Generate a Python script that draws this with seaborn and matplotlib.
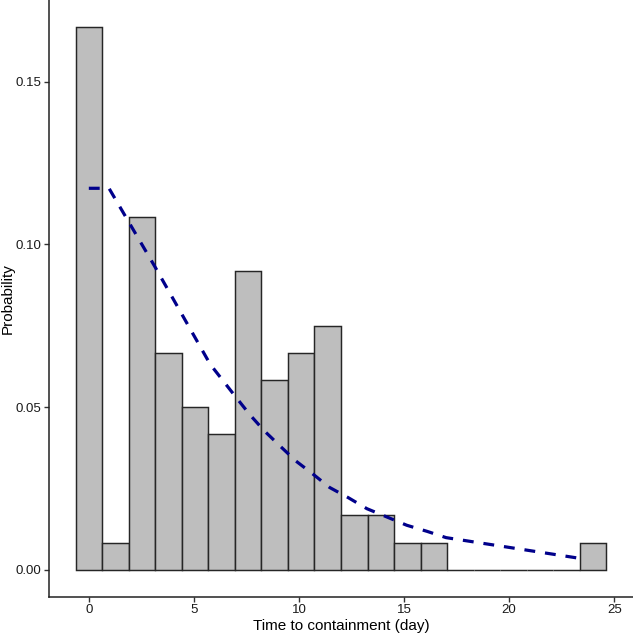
import numpy as np
import pandas as pd
import matplotlib
matplotlib.use("Agg")
import matplotlib.pyplot as plt
import seaborn as sns

# ---- data ----
n_bins = 20
data_min, data_max = 0.0, 24.0
probabilities = [0.1667, 0.0083, 0.1083, 0.0667, 0.0500, 0.0417, 0.0917, 0.0583,
                 0.0667, 0.0750, 0.0167, 0.0167, 0.0083, 0.0083, 0.0, 0.0, 0.0,
                 0.0, 0.0, 0.0083]
fit_x = [0.0, 0.96, 3.12, 5.78, 7.03, 7.67, 8.35, 9.09, 9.86, 10.65, 11.46,
         12.34, 13.23, 14.2, 15.13, 16.11, 17.0, 23.4]
fit_y = [0.1172, 0.1172, 0.0934, 0.0631, 0.0528, 0.0476, 0.0427, 0.0381,
         0.0334, 0.0295, 0.0253, 0.0222, 0.0188, 0.0162, 0.0137, 0.0118,
         0.0099, 0.0035]
x_ticks = [0, 5, 10, 15, 20, 25]
y_ticks = [0.00, 0.05, 0.10, 0.15]
y_tick_labels = ["0.00", "0.05", "0.10", "0.15"]
x_label = "Time to containment (day)"
y_label = "Probability"

# bins as ggplot builds them (centred on the data minimum)
width = (data_max - data_min) / (n_bins - 1)
centers = data_min + width * np.arange(n_bins)
edges = np.append(centers - width / 2, centers[-1] + width / 2)
hist_df = pd.DataFrame({"x": centers, "p": probabilities})
fit_df = pd.DataFrame({"x": fit_x, "y": fit_y})

sns.set_style("ticks")
plt.rcParams["font.family"] = ["Liberation Sans", "DejaVu Sans"]

W, H = 633, 634
L, B = 49, 37
fig = plt.figure(figsize=(W / 100, H / 100), dpi=100)
ax = fig.add_axes([L / W, B / H, 1 - L / W, 1 - B / H])

sns.histplot(data=hist_df, x="x", weights="p", bins=[float(e) for e in edges],
             ax=ax, color="#BEBEBE", alpha=1, edgecolor="#262626", linewidth=1.05)
sns.lineplot(data=fit_df, x="x", y="y", ax=ax, color="#00008B",
             linewidth=2.3, linestyle="--")
for ln in ax.lines:
    ln.set_dashes((3.4, 3.1))

ymax = max(probabilities)
span = edges[-1] - edges[0]
ax.set_xlim(edges[0] - 0.05 * span, edges[-1] + 0.05 * span)
ax.set_ylim(-0.05 * ymax, ymax * 1.05)
ax.set_xticks(x_ticks)
ax.set_yticks(y_ticks)
ax.set_yticklabels(y_tick_labels)
ax.set_xlabel(x_label, fontsize=11, color="black")
ax.set_ylabel(y_label, fontsize=11, color="black")
ax_w, ax_h = W - L, H - B
ax.xaxis.set_label_coords(0.5, -22 / ax_h)
ax.yaxis.set_label_coords(-(L - 15) / ax_w, 0.5)
ax.tick_params(axis="both", labelsize=9.5, colors="#333333", length=3.5,
               width=1.0, labelcolor="#1a1a1a", pad=1.8)
for s in ["top", "right"]:
    ax.spines[s].set_visible(False)
for s in ["left", "bottom"]:
    ax.spines[s].set_color("#222222")
    ax.spines[s].set_linewidth(1.1)

fig.savefig("out.png", dpi=100)
